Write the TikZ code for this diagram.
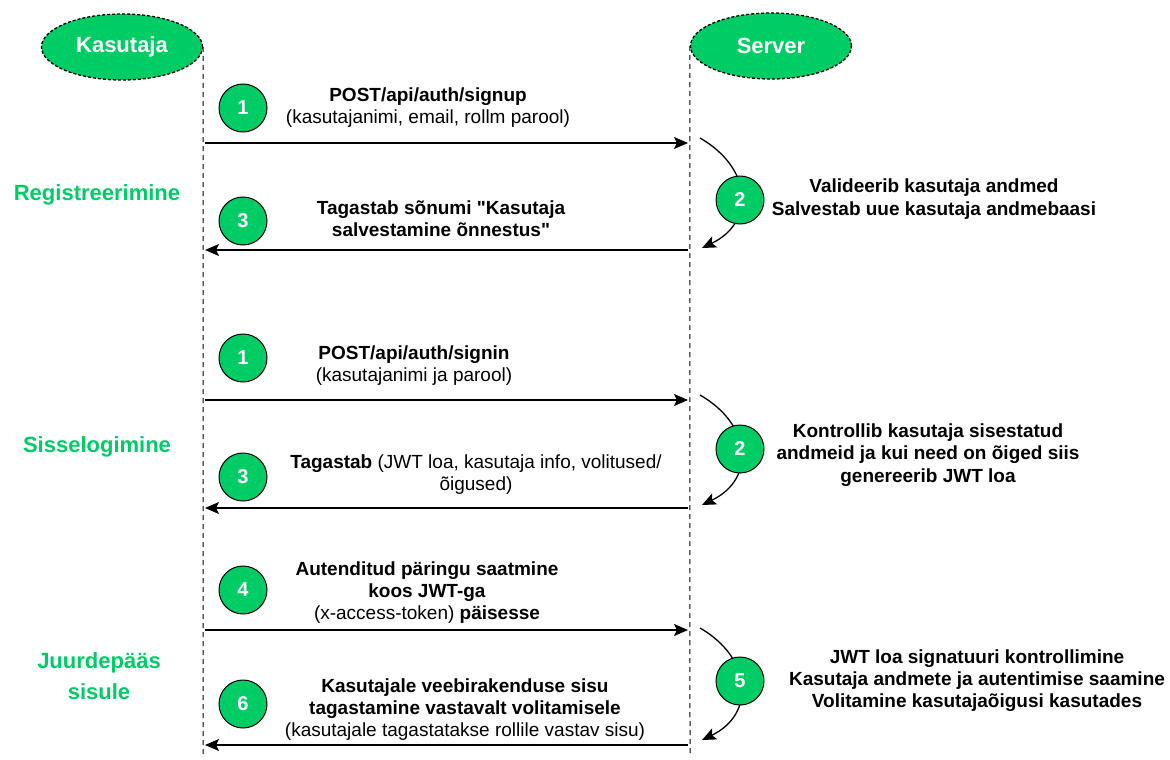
\documentclass[tikz,border=0pt]{standalone}
\usepackage{fontspec}
\setmainfont{Liberation Sans}
\newfontfamily\qf{Liberation Sans}
\usetikzlibrary{arrows.meta,shapes.geometric}
\definecolor{grn}{HTML}{00CC66}
\begin{document}
\begin{tikzpicture}[x=1pt,y=-1pt,
 actor/.style={ellipse, draw, dash pattern=on 3pt off 2pt, line width=1.3pt, fill=grn, minimum width=161pt, minimum height=66pt, text=white, font=\fontsize{22}{26}\selectfont\bfseries},
 life/.style={dash pattern=on 5pt off 4pt, line width=1pt},
 msg/.style={-{Stealth[length=14pt,width=12pt,inset=3pt]}, line width=1.3pt},
 num/.style={circle, draw, line width=1pt, fill=grn, minimum size=48pt, inner sep=0pt, text=white, font=\fontsize{20}{22}\selectfont\bfseries},
 txt/.style={align=center, font=\fontsize{19}{22}\selectfont, inner sep=0pt},
 phase/.style={align=center, text=grn, font=\fontsize{22}{31}\selectfont\bfseries, inner sep=0pt},
]
\useasboundingbox (0,0) rectangle (1170,760);

% actors
\node[actor] (kas) at (122,47) {Kasutaja};
\node[actor] (srv) at (771,46) {Server};
\coordinate (kasB) at (203,757);
\coordinate (srvB) at (690,757);
\draw[life] (kas.east) -- (kasB);
\draw[life] (srv.west) -- (srvB);

% phase labels
\node[phase] (p1) at (97,195) {Registreerimine};
\node[phase] (p2) at (97,447) {Sisselogimine};
\node[phase] (p3) at (99,676) {Juurdepääs\\sisule};

% ---------- Registreerimine ----------
\coordinate (m1a) at (205,143); \coordinate (m1b) at (688,143);
\draw[msg] (m1a) -- (m1b);
\node[num] (c1) at (243,108) {1};
\node[txt] (t1) at (428,108) {\textbf{POST/api/auth/signup}\\(kasutajanimi, email, rollm parool)};

\coordinate (s2a) at (700,138); \coordinate (s2b) at (702,248);
\draw[msg] (s2a) .. controls (752,168) and (756,222) .. (s2b);
\node[num] (c2) at (740,200) {2};
\node[txt,font=\fontsize{19}{23}\selectfont\bfseries] (t2) at (934,199) {Valideerib kasutaja andmed\\Salvestab uue kasutaja andmebaasi};

\coordinate (m3a) at (688,250); \coordinate (m3b) at (205,250);
\draw[msg] (m3a) -- (m3b);
\node[num] (c3) at (243,221) {3};
\node[txt,font=\fontsize{19}{22}\selectfont\bfseries] (t3) at (441,219) {Tagastab sõnumi {\qf"}Kasutaja\\salvestamine õnnestus{\qf"}};

% ---------- Sisselogimine ----------
\coordinate (m4a) at (205,400); \coordinate (m4b) at (688,400);
\draw[msg] (m4a) -- (m4b);
\node[num] (c4) at (243,358) {1};
\node[txt] (t4) at (414,366) {\textbf{POST/api/auth/signin}\\(kasutajanimi ja parool)};

\coordinate (s5a) at (700,395); \coordinate (s5b) at (702,505);
\draw[msg] (s5a) .. controls (752,425) and (756,479) .. (s5b);
\node[num] (c5) at (740,449) {2};
\node[txt,font=\fontsize{19}{22.5}\selectfont\bfseries] (t5) at (928,455) {Kontrollib kasutaja sisestatud\\andmeid ja kui need on õiged siis\\genereerib JWT loa};

\coordinate (m6a) at (688,508); \coordinate (m6b) at (205,508);
\draw[msg] (m6a) -- (m6b);
\node[num] (c6) at (243,477) {3};
\node[txt] (t6) at (476,475) {\textbf{Tagastab} (JWT loa, kasutaja info, volitused/\\õigused)};

% ---------- Juurdepääs sisule ----------
\coordinate (m7a) at (205,630); \coordinate (m7b) at (688,630);
\draw[msg] (m7a) -- (m7b);
\node[num] (c7) at (243,590) {4};
\node[txt] (t7) at (427,593) {\textbf{Autenditud päringu saatmine}\\\textbf{koos JWT-ga}\\(x-access-token) \textbf{päisesse}};

\coordinate (s8a) at (700,628); \coordinate (s8b) at (702,740);
\draw[msg] (s8a) .. controls (752,658) and (756,714) .. (s8b);
\node[num] (c8) at (740,681) {5};
\node[txt,font=\fontsize{19}{22}\selectfont\bfseries] (t8) at (977,681) {JWT loa signatuuri kontrollimine\\Kasutaja andmete ja autentimise saamine\\Volitamine kasutajaõigusi kasutades};

\coordinate (m9a) at (688,745); \coordinate (m9b) at (205,745);
\draw[msg] (m9a) -- (m9b);
\node[num] (c9) at (243,704) {6};
\node[txt] (t9) at (465,710) {\textbf{Kasutajale veebirakenduse sisu}\\\textbf{tagastamine vastavalt volitamisele}\\(kasutajale tagastatakse rollile vastav sisu)};
\end{tikzpicture}
\end{document}
